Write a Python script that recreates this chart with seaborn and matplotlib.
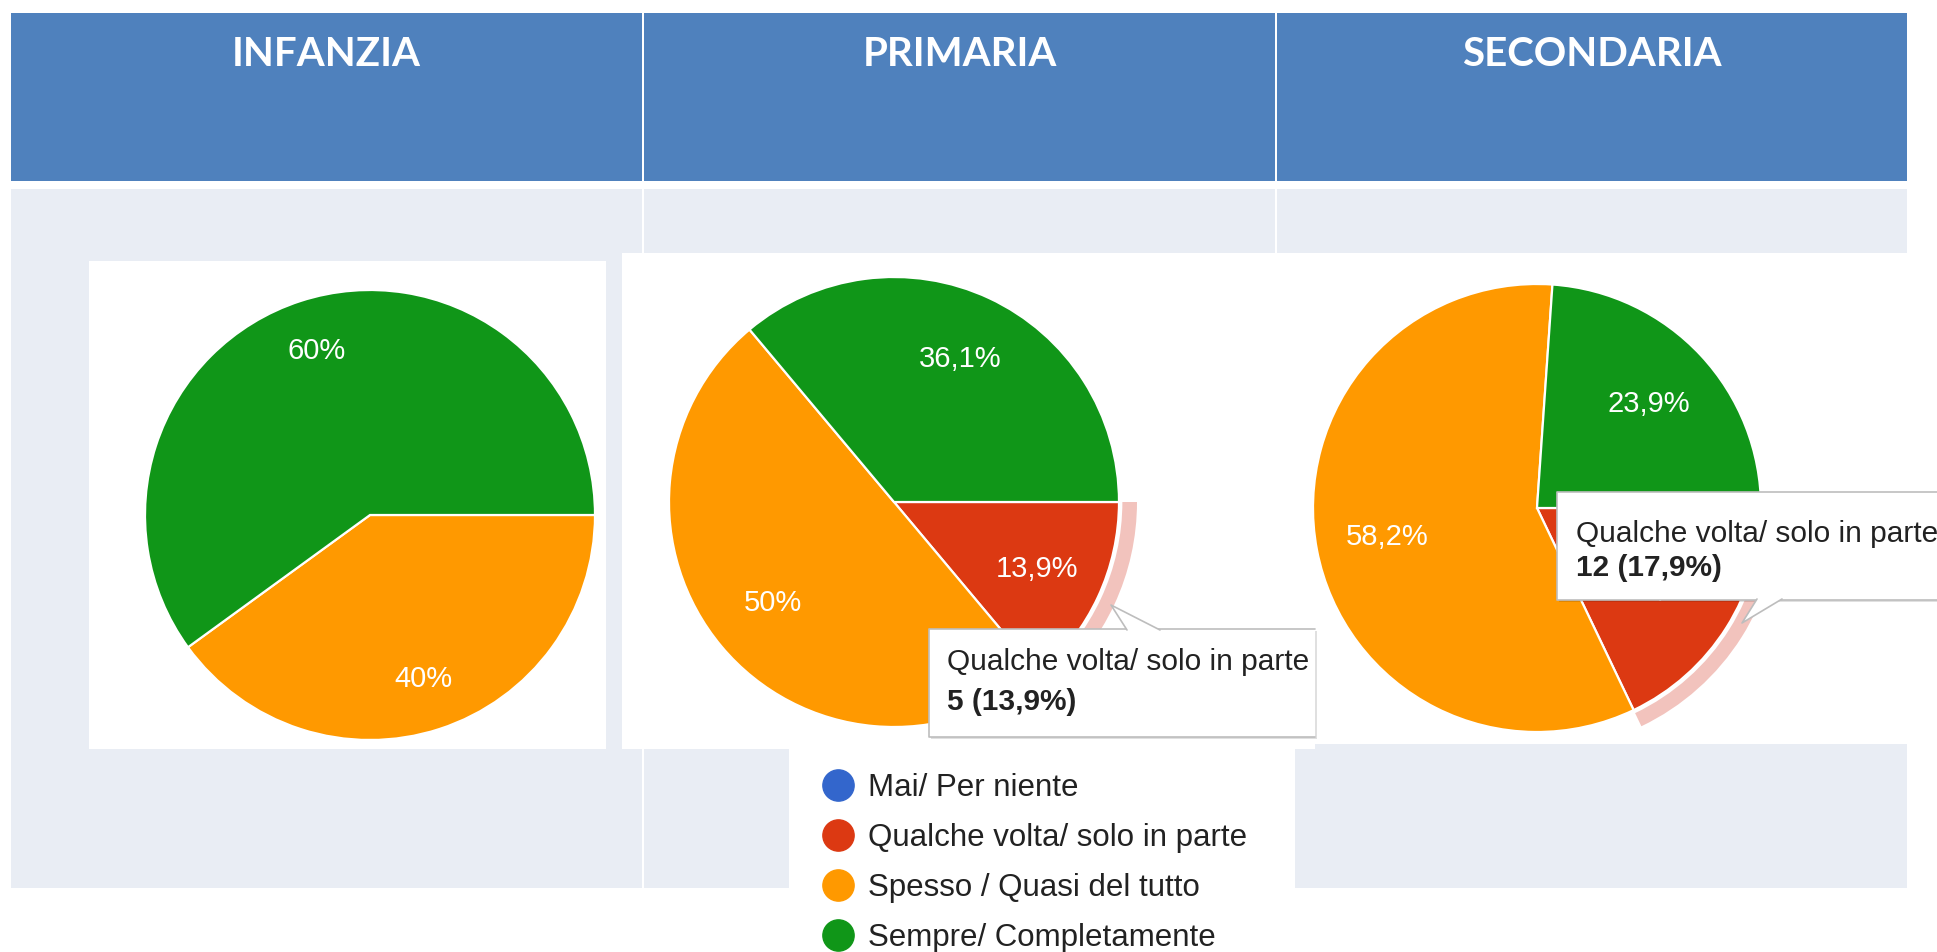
import matplotlib
matplotlib.use("Agg")
import matplotlib.pyplot as plt
import seaborn as sns
from matplotlib.patches import Rectangle, Polygon
from matplotlib.lines import Line2D

# ---------------- data ----------------
schools = ["INFANZIA", "PRIMARIA", "SECONDARIA"]
categories = ["Mai/ Per niente", "Qualche volta/ solo in parte",
              "Spesso / Quasi del tutto", "Sempre/ Completamente"]
infanzia_pct = [0, 0, 40, 60]
primaria_pct = [0, 13.9, 50, 36.1]
secondaria_pct = [0, 17.9, 58.2, 23.9]
primaria_counts = [0, 5, 18, 13]
secondaria_counts = [0, 12, 39, 16]
highlight_idx = 1  # slice under the tooltip

# ---------------- style ----------------
sns.set_theme(style="white")
plt.rcParams["font.family"] = ["Liberation Sans", "DejaVu Sans"]
palette = sns.color_palette(["#3366CC", "#DC3912", "#FF9900", "#109618"])
HEADER = "#4F81BD"
CELL = "#E9EDF4"
PINK = "#F2C3BD"
TXT = "#222222"

W, H = 1937, 952
fig = plt.figure(figsize=(W / 100, H / 100), dpi=100)
fig.patch.set_facecolor("white")

bg = fig.add_axes([0, 0, 1, 1], zorder=0)
bg.set_xlim(0, W); bg.set_ylim(H, 0); bg.axis("off")

cols = [(11, 642), (644, 1275), (1277, 1907)]
for (x0, x1), name in zip(cols, schools):
    bg.add_patch(Rectangle((x0, 13), x1 - x0, 168, facecolor=HEADER, edgecolor="none"))
    bg.add_patch(Rectangle((x0, 189), x1 - x0, 699, facecolor=CELL, edgecolor="none"))
    bg.text((x0 + x1) / 2, 66, name, ha="center", va="baseline", color="white",
            fontsize=29, fontweight="bold", family=["Lato", "DejaVu Sans"])

# white image boxes
for (x0, y0, x1, y1) in [(89, 261, 606, 749), (622, 253, 1315, 749),
                         (1315, 253, 1937, 744), (789, 744, 1295, 952)]:
    bg.add_patch(Rectangle((x0, y0), x1 - x0, y1 - y0, facecolor="white",
                           edgecolor="none", zorder=2))


def fmt(v):
    s = f"{v:.1f}".rstrip("0").rstrip(".")
    return s.replace(".", ",") + "%"


def pie_ax(cx, cy, r, vals, highlight=None, pctd=0.76, half=270):
    L = half / r
    ax = fig.add_axes([(cx - half) / W, 1 - (cy + half) / H, 2 * half / W, 2 * half / H],
                      zorder=1)
    ax.set_facecolor("none")
    ax.pie(vals, colors=palette, startangle=0, counterclock=False, radius=1,
           autopct=lambda p: fmt(p) if p > 0.05 else "", pctdistance=pctd,
           wedgeprops=dict(edgecolor="white", linewidth=1.6),
           textprops=dict(color="white", fontsize=21))
    if highlight is not None:
        ring = ["none"] * len(vals)
        ring[highlight] = PINK
        ax.pie(vals, colors=ring, startangle=0, counterclock=False, radius=1.08,
               wedgeprops=dict(width=0.065, edgecolor="none"))
    ax.set_xlim(-L, L); ax.set_ylim(-L, L)
    ax.axis("off")
    return ax


pie_ax(370, 515, 225, infanzia_pct, pctd=0.765)
pie_ax(894, 502, 225, primaria_pct, highlight=highlight_idx, pctd=0.70)
pie_ax(1537, 508, 224, secondaria_pct, highlight=highlight_idx, pctd=0.68)

# ---------------- overlay: tooltips and legend ----------------
ov = fig.add_axes([0, 0, 1, 1], zorder=5)
ov.set_facecolor("none")
ov.set_xlim(0, W); ov.set_ylim(H, 0); ov.axis("off")


def tooltip(x0, y0, x1, y1, tail, title, value, tx, b1, b2):
    ov.add_patch(Rectangle((x0 + 2, y0 + 2), x1 - x0, y1 - y0, facecolor="#000000",
                           alpha=0.12, edgecolor="none", zorder=1))
    ov.add_patch(Rectangle((x0, y0), x1 - x0, y1 - y0, facecolor="white",
                           edgecolor="none", zorder=2))
    ec = "#BDBDBD"
    ov.plot([x1, x0, x0, x1], [y0, y0, y1, y1], color=ec, lw=1.2, zorder=3)
    ov.add_patch(Polygon(tail, closed=True, facecolor="white", edgecolor="none", zorder=4))
    ov.plot([tail[1][0], tail[0][0], tail[2][0]], [tail[1][1], tail[0][1], tail[2][1]],
            color=ec, lw=1.2, zorder=4)
    ov.text(tx, b1, title, ha="left", va="baseline", fontsize=21.5, color=TXT, zorder=5)
    ov.text(tx, b2, value, ha="left", va="baseline", fontsize=21.5, color=TXT,
            fontweight="bold", zorder=5)


i = highlight_idx
tooltip(929, 629, 1315, 737, [(1111, 605), (1127, 630), (1160, 630)],
        categories[i], f"{primaria_counts[i]} ({fmt(primaria_pct[i])})", 947, 670, 710)
tooltip(1557, 492, 1960, 600, [(1742, 623), (1757, 599), (1782, 599)],
        categories[i], f"{secondaria_counts[i]} ({fmt(secondaria_pct[i])})", 1576, 542, 576)

handles = [Line2D([], [], marker="o", linestyle="", markersize=22.5,
                  markerfacecolor=c, markeredgecolor=c) for c in palette]
ov.legend(handles, categories, loc="upper left", bbox_to_anchor=(822, 773),
          bbox_transform=ov.transData, frameon=False,
          prop={"family": "Liberation Sans", "size": 22.5}, labelcolor=TXT,
          handlelength=1.0, handletextpad=0.47, labelspacing=0.64,
          borderpad=0, borderaxespad=0)

fig.savefig("out.png", dpi=100, facecolor="white")
